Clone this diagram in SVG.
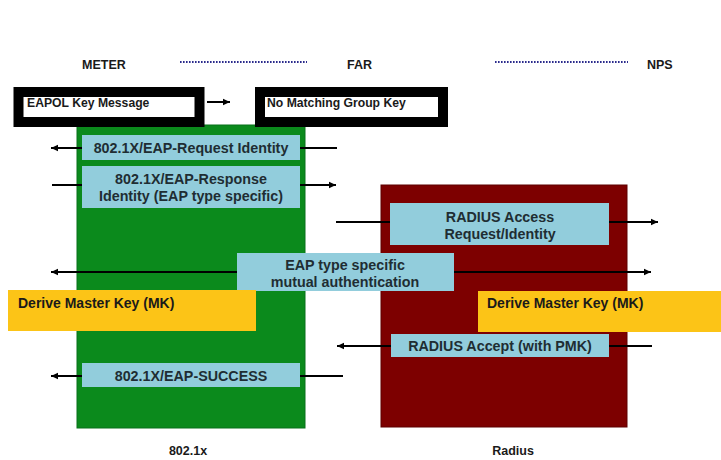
<svg xmlns="http://www.w3.org/2000/svg" width="721" height="460" viewBox="0 0 721 460">
<defs>
<style>
text{font-family:"Liberation Sans",Arial,sans-serif;font-weight:bold;fill:#1a1a1a}
.hdr{font-size:12.5px}
.lbl{font-size:14.3px;text-anchor:middle;fill:#1f2d33}
.key{font-size:12.2px}
.mk{font-size:14px}
.blue{fill:#92cddc}
.yel{fill:#fcc417}
.kbox{fill:#fff;stroke:#000;stroke-width:10}
.dot{stroke:#2b2b8c;stroke-width:2.2;stroke-dasharray:1.6 1.4;fill:none}
.ln{stroke:#000;stroke-width:2;fill:none}
.arr{marker-end:url(#ah)}
</style>
<marker id="ah" markerUnits="userSpaceOnUse" markerWidth="8" markerHeight="8" refX="7" refY="4" orient="auto">
<path d="M0,0.8 L7,4 L0,7.2 Z" fill="#000"/>
</marker>
</defs>
<rect width="721" height="460" fill="#fff"/>

<g id="headers">
<text class="hdr" x="82" y="69">METER</text>
<text class="hdr" x="347" y="69">FAR</text>
<text class="hdr" x="647" y="69">NPS</text>
<line class="dot" x1="180" y1="62" x2="307" y2="62"/>
<line class="dot" x1="495" y1="62" x2="628" y2="62"/>
</g>

<g id="lane-8021x">
<rect x="77" y="125" width="228" height="303" fill="#0b8a1c" stroke="#08701a" stroke-width="1"/>
<text class="hdr" x="188" y="455" text-anchor="middle">802.1x</text>
</g>
<g id="lane-radius">
<rect x="381" y="185" width="246" height="242" fill="#7d0000" stroke="#5e0000" stroke-width="1"/>
<text class="hdr" x="513" y="455" text-anchor="middle">Radius</text>
</g>

<g id="connectors">
<line class="ln arr" x1="207" y1="102" x2="230" y2="102"/>
<line class="ln arr" x1="82" y1="148" x2="51" y2="148"/>
<line class="ln" x1="300" y1="148" x2="337" y2="148"/>
<line class="ln" x1="52" y1="185" x2="82" y2="185"/>
<line class="ln arr" x1="300" y1="185" x2="336" y2="185"/>
<line class="ln" x1="336" y1="222" x2="390" y2="222"/>
<line class="ln arr" x1="609" y1="222" x2="658" y2="222"/>
<line class="ln arr" x1="237" y1="272" x2="51" y2="272"/>
<line class="ln arr" x1="454" y1="272" x2="651" y2="272"/>
<line class="ln arr" x1="391" y1="346" x2="337" y2="346"/>
<line class="ln" x1="609" y1="346" x2="652" y2="346"/>
<line class="ln arr" x1="82" y1="376" x2="51" y2="376"/>
<line class="ln" x1="300" y1="376" x2="343" y2="376"/>
</g>

<g id="eapol-key">
<rect class="kbox" x="18.5" y="92" width="181" height="30"/>
<text class="key" x="27" y="107">EAPOL Key Message</text>
</g>
<g id="no-matching">
<rect class="kbox" x="260" y="92" width="183" height="30"/>
<text class="key" x="267" y="107">No Matching Group Key</text>
</g>

<g id="request-identity">
<rect class="blue" x="82" y="135" width="218" height="25"/>
<text class="lbl" x="191" y="153">802.1X/EAP-Request Identity</text>
</g>
<g id="response-identity">
<rect class="blue" x="82" y="166" width="218" height="42"/>
<text class="lbl" x="191" y="184">802.1X/EAP-Response</text>
<text class="lbl" x="191" y="201">Identity (EAP type specific)</text>
</g>
<g id="radius-access">
<rect class="blue" x="390" y="203" width="219" height="42"/>
<text class="lbl" x="500" y="222">RADIUS Access</text>
<text class="lbl" x="500" y="239">Request/Identity</text>
</g>
<g id="mutual-auth">
<rect class="blue" x="237" y="253" width="217" height="38"/>
<text class="lbl" x="345" y="270">EAP type specific</text>
<text class="lbl" x="345" y="287">mutual authentication</text>
</g>
<g id="derive-mk-left">
<rect class="yel" x="8" y="290" width="248" height="41"/>
<text class="mk" x="18" y="308">Derive Master Key (MK)</text>
</g>
<g id="derive-mk-right">
<rect class="yel" x="478" y="291" width="243" height="41"/>
<text class="mk" x="487" y="308">Derive Master Key (MK)</text>
</g>
<g id="radius-accept">
<rect class="blue" x="391" y="334" width="218" height="23"/>
<text class="lbl" x="500" y="351">RADIUS Accept (with PMK)</text>
</g>
<g id="eap-success">
<rect class="blue" x="82" y="363" width="218" height="24"/>
<text class="lbl" x="191" y="381">802.1X/EAP-SUCCESS</text>
</g>
</svg>
